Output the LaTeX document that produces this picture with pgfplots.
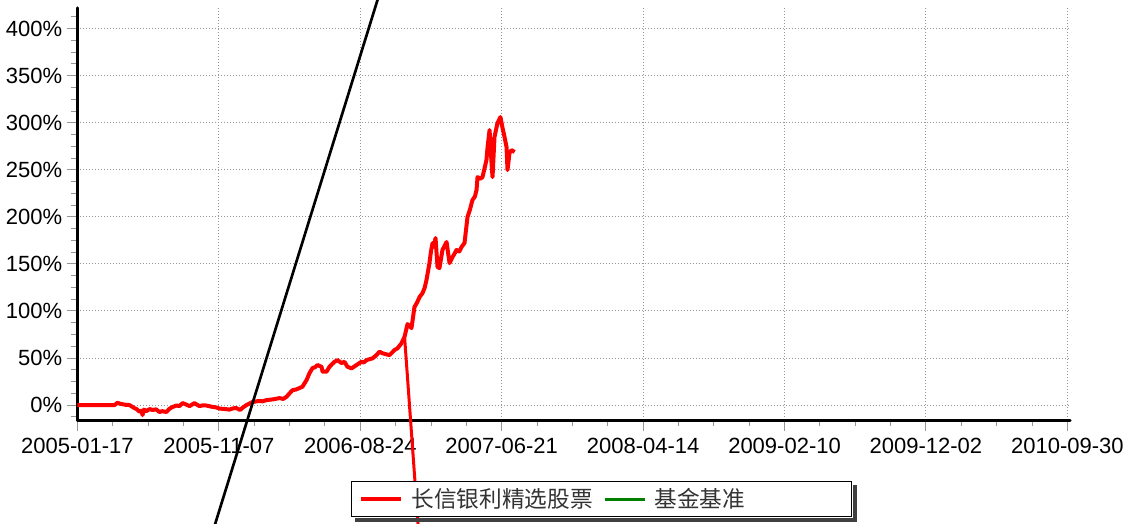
\documentclass[border=0pt]{standalone}
\usepackage{pgfplots}
\pgfplotsset{compat=1.18}
\usepackage{fontspec}
\setmainfont{Liberation Sans}
\newfontfamily\cjk{Noto Sans CJK SC}
\definecolor{gridgray}{RGB}{150,150,150}
\definecolor{benchgreen}{RGB}{0,128,0}
\definecolor{fundred}{RGB}{255,0,0}

\begin{document}
\begin{tikzpicture}
\useasboundingbox (-58.1pt,-77.25pt) rectangle (790.1pt,315pt);
\begin{axis}[
  scale only axis, width=744.4pt, height=309pt,
  xmin=0, xmax=7.019, ymin=-15.9, ymax=422,
  axis lines=left,
  axis line style={-, line width=2.25pt, line cap=round, black},
  clip=false,
  xtick={0,1,2,3,4,5,6,7},
  xticklabels={2005-01-17,2005-11-07,2006-08-24,2007-06-21,2008-04-14,2009-02-10,2009-12-02,2010-09-30},
  ytick={0,50,100,150,200,250,300,350,400},
  yticklabels={0\%,50\%,100\%,150\%,200\%,250\%,300\%,350\%,400\%},
  minor xtick={0,0.25,...,7},
  minor ytick={-12.5,0,...,412.5},
  tick align=outside,
  major tick length=8pt, minor tick length=4.5pt,
  every tick/.style={gridgray, line width=0.75pt},
  grid=major,
  major grid style={gridgray, line width=0.75pt, dash pattern=on 0.75pt off 1.5pt},
  tick label style={font=\fontsize{16.5}{18}\selectfont, text=black},
  xticklabel shift=2pt,
  legend columns=2,
  legend image code/.code={\draw[#1] (0pt,0pt) -- (30pt,0pt);},
  legend style={name=legbox, at={(0.528,-0.148)}, anchor=north, draw=black, line width=1.1pt,
    fill=white,
    font=\cjk\fontsize{17}{19}\selectfont, text=black!80,
    inner xsep=6pt, inner ysep=3pt,
    /tikz/every odd column/.append style={column sep=4pt},
    /tikz/every even column/.append style={column sep=6pt}},
]
\addplot[fundred, line width=3pt, line join=round] coordinates {
(0,0) (0.262,0) (0.283,2.4) (0.300,1.5) (0.311,1.1) (0.340,0.3) (0.368,0) (0.400,-3)
(0.420,-4.5) (0.438,-7.1) (0.452,-6) (0.460,-10.6) (0.470,-4.8)
(0.488,-6.4) (0.510,-4.2) (0.530,-5.3) (0.555,-4.5) (0.580,-7.4) (0.600,-6.5) (0.629,-7.4) (0.650,-4) (0.672,-2.1) (0.700,-0.5) (0.721,-1.1)
(0.743,2.1) (0.770,0.5) (0.792,-1.1) (0.810,0.5) (0.827,2.1) (0.845,0.4) (0.863,-1.1) (0.890,-0.2) (0.912,-0.5) (0.950,-1.8) (0.980,-2.5) (1.004,-3.7)
(1.040,-4.2) (1.075,-4.8) (1.100,-3.5) (1.124,-3.2) (1.150,-5.2) (1.170,-2.6) (1.195,0) (1.238,3.2) (1.280,4.3) (1.310,4.0) (1.337,5.3) (1.380,6.0) (1.429,7.4)
(1.455,6.5) (1.478,8.8) (1.500,12.5) (1.521,15.9) (1.545,16.5) (1.570,18.1) (1.591,19.5) (1.620,26.6) (1.641,34.0)
(1.662,39.3) (1.680,40.2) (1.697,42.5) (1.726,40.7) (1.733,35.4) (1.761,35.4) (1.782,40.7)
(1.800,43.5) (1.818,46.0) (1.839,47.8) (1.867,44.6) (1.888,46.0) (1.909,40.7) (1.938,39.0)
(1.973,42.5) (2.008,46.0) (2.025,45.2) (2.044,47.8) (2.086,49.6) (2.110,52.5) (2.136,56.7) (2.157,55.0)
(2.207,53.1) (2.242,58.5) (2.263,60.3) (2.291,65.6) (2.313,72.6) (2.334,86.1)
(2.362,81.8) (2.383,104.2) (2.400,108.5) (2.419,114.8) (2.440,119.0) (2.455,124.5) (2.468,132.9) (2.489,150.9)
(2.500,163.5) (2.511,172.2) (2.520,168.5) (2.532,177.5) (2.546,146.7) (2.560,145.6) (2.581,164.8) (2.610,173.3)
(2.631,150.9) (2.652,157.3) (2.665,160.5) (2.680,164.8) (2.700,163.2) (2.716,168.0) (2.737,172.2) (2.758,199.8)
(2.775,207.5) (2.793,217.9) (2.810,221.5) (2.822,228.5) (2.829,242.3) (2.850,240.5) (2.864,242.3) (2.880,252.5) (2.892,260.4) (2.900,274.2)
(2.914,292.3) (2.928,257.2) (2.935,242.3) (2.949,284.9) (2.970,299.7) (2.991,306.1)
(3.005,295.0) (3.020,284.9) (3.034,274.2) (3.041,249.8) (3.055,267.9) (3.069,271.0) (3.091,268.9)
};
\addlegendentry{长信银利精选股票}
\addlegendimage{benchgreen, line width=2.25pt}
\addlegendentry{基金基准\rule{72pt}{0pt}}
\addplot[fundred, line width=2.25pt, forget plot] coordinates {(2.313,72.6) (2.41,-130)};
\addplot[black, line width=2pt, forget plot] coordinates {(0.966,-130) (2.131,435)};
\end{axis}
\fill[black!75] ([xshift=0.55pt,yshift=-3pt]legbox.north east) rectangle ([xshift=3.5pt,yshift=-3.5pt]legbox.south east);
\fill[black!75] ([xshift=3pt,yshift=-0.55pt]legbox.south west) rectangle ([xshift=3.5pt,yshift=-3.5pt]legbox.south east);
\end{tikzpicture}
\end{document}
